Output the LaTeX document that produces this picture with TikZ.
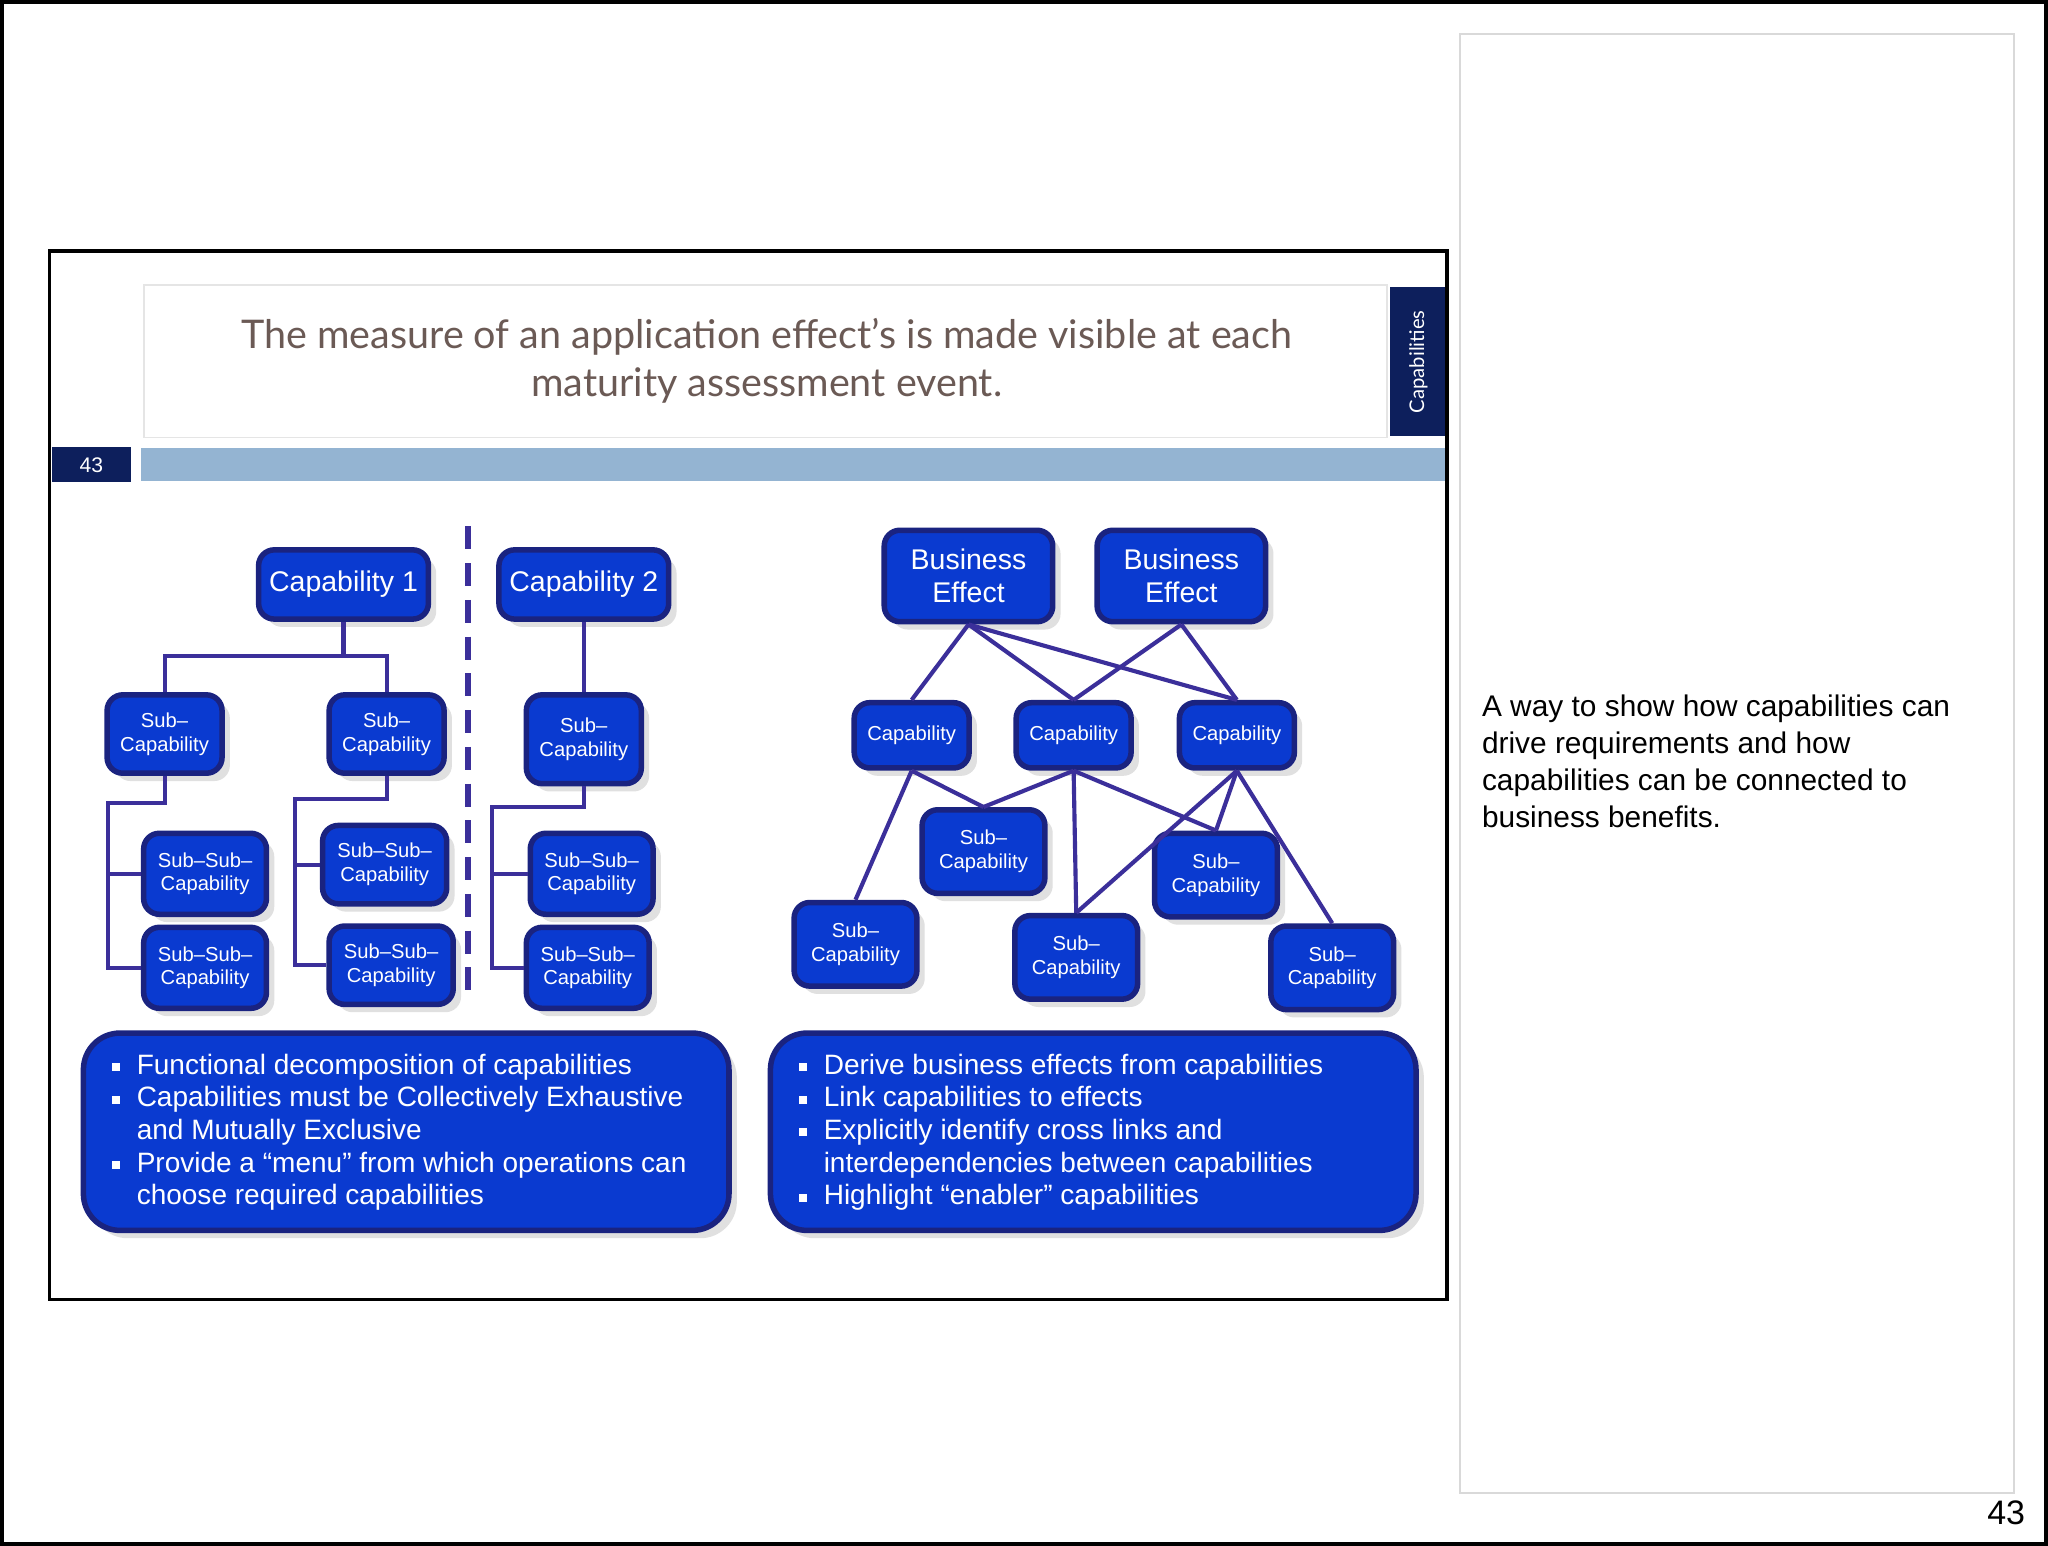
\documentclass[tikz,border=0pt]{standalone}
\usepackage{fontspec}
\setmainfont{Liberation Sans}
\newfontfamily\titlefont{Lato}
\usetikzlibrary{shadows}
\definecolor{nodeblue}{HTML}{0A3AD0}
\definecolor{nodeedge}{HTML}{1A2380}
\definecolor{linec}{HTML}{3B2F9A}
\definecolor{navy}{HTML}{0D1F5C}
\definecolor{barblue}{HTML}{94B4D2}
\definecolor{titlec}{HTML}{6B5A55}
\tikzset{
  box/.style={draw=nodeedge,line width=1.2pt,fill=nodeblue,rounded corners=0.12cm,text=white,align=center,inner sep=0pt,
    drop shadow={shadow xshift=0.06cm,shadow yshift=-0.06cm,fill=black!12,opacity=1}},
  big/.style={font=\fontsize{6.2}{7.2}\selectfont},
  small/.style={font=\fontsize{4.4}{5.2}\selectfont},
  ln/.style={draw=linec,line width=0.9pt},
}
\newcommand\bx[7]{\node[box,#7,minimum width={(#4-#2)*0.01cm},minimum height={(#5-#3)*0.01cm}] (#1) at ({(#2+#4)/2},{(#3+#5)/2}) {#6};}
\begin{document}
\begin{tikzpicture}[x=0.01cm,y=-0.01cm]
\useasboundingbox (0,0) rectangle (1568,1183);
\fill[white] (0,0) rectangle (1568,1183);
\draw[black,line width=1pt] (1,1) rectangle (1567,1182);
\draw[black!15,line width=0.4pt] (1118,26) rectangle (1542,1143);
\draw[black,line width=0.8pt] (38,192) rectangle (1108,995);
\draw[black!10,line width=0.4pt] (110,218) rectangle (1062,335);
\node[text=titlec,font=\titlefont\fontsize{8.6}{10.4}\selectfont,align=center] (title) at (587,276) {The measure of an application effect’s is made visible at each\\maturity assessment event.};
\fill[navy] (1064,220) rectangle (1106,334);
\node[rotate=90,text=white,font=\titlefont\fontsize{4.4}{5}\selectfont] (capl) at (1086,277) {Capabilities};
\fill[navy] (40,342) rectangle (100,369);
\node[text=white,font=\fontsize{4.6}{5}\selectfont] (num) at (70,356) {43};
\fill[barblue] (108,343) rectangle (1106,368);
% left tree
\bx{c1}{198}{421}{328}{474}{Capability 1}{big}
\bx{c2}{382}{421}{512}{474}{Capability 2}{big}
\bx{s1}{82}{532}{170}{592}{Sub–\\Capability}{small}
\bx{s2}{252}{532}{340}{592}{Sub–\\Capability}{small}
\bx{s3}{403}{532}{491}{600}{Sub–\\Capability}{small}
\bx{ss1}{110}{638}{204}{700}{Sub–Sub–\\Capability}{small}
\bx{ss2}{110}{710}{204}{772}{Sub–Sub–\\Capability}{small}
\bx{ss3}{247}{632}{342}{692}{Sub–Sub–\\Capability}{small}
\bx{ss4}{252}{709}{347}{769}{Sub–Sub–\\Capability}{small}
\bx{ss5}{406}{638}{500}{700}{Sub–Sub–\\Capability}{small}
\bx{ss6}{403}{710}{497}{772}{Sub–Sub–\\Capability}{small}
\draw[ln] (c1.south) -- (263,502) coordinate (j1);
\draw[ln] (s1.north) |- (j1) -| (s2.north);
\draw[ln] (c2.south) -- (s3.north);
\draw[ln] (s1.south) -- (126,615) -- (83,615) |- (ss2.west);
\draw[ln] (83,669) -- (ss1.west);
\draw[ln] (s2.south) -- (296,612) -- (226,612) |- (ss4.west);
\draw[ln] (226,662) -- (ss3.west);
\draw[ln] (s3.south) -- (447,618) -- (377,618) |- (ss6.west);
\draw[ln] (377,669) -- (ss5.west);
\draw[linec,line width=1.3pt,dash pattern=on 5pt off 3pt] (358,403) -- (358,768);
% right graph
\bx{b1}{677}{406}{806}{476}{Business\\Effect}{big}
\bx{b2}{840}{406}{969}{476}{Business\\Effect}{big}
\bx{k1}{654}{538}{742}{588}{Capability}{small}
\bx{k2}{778}{538}{866}{588}{Capability}{small}
\bx{k3}{903}{538}{991}{588}{Capability}{small}
\bx{u1}{706}{620}{800}{684}{Sub–\\Capability}{small}
\bx{u2}{884}{638}{978}{702}{Sub–\\Capability}{small}
\bx{u3}{608}{691}{702}{755}{Sub–\\Capability}{small}
\bx{u4}{777}{701}{871}{765}{Sub–\\Capability}{small}
\bx{u5}{973}{709}{1067}{773}{Sub–\\Capability}{small}
\begin{scope}[on background layer/.style={}]
\draw[ln] (b1.south) -- (k1.north);
\draw[ln] (b1.south) -- (k2.north);
\draw[ln] (b1.south) -- (k3.north);
\draw[ln] (b2.south) -- (k2.north);
\draw[ln] (b2.south) -- (k3.north);
\draw[ln] (k1.south) -- (u3.north);
\draw[ln] (k1.south) -- (u1.north);
\draw[ln] (k2.south) -- (u1.north);
\draw[ln] (k2.south) -- (u4.north);
\draw[ln] (k2.south) -- (u2.north);
\draw[ln] (k3.south) -- (u2.north);
\draw[ln] (k3.south) -- (u4.north);
\draw[ln] (k3.south) -- (u5.north);
\end{scope}
% bullet boxes
\tikzset{bbox/.style={draw=nodeedge,line width=1.2pt,fill=nodeblue,rounded corners=0.28cm,
    drop shadow={shadow xshift=0.06cm,shadow yshift=-0.06cm,fill=black!12,opacity=1}}}
\node[bbox,minimum width=4.94cm,minimum height=1.51cm] (p1) at (311,866.5) {};
\node[bbox,minimum width=4.94cm,minimum height=1.51cm] (p2) at (837,866.5) {};
\tikzset{bl/.style={text=white,anchor=west,inner sep=0pt,font=\fontsize{6.1}{7}\selectfont},
  sq/.style={fill=white,minimum size=0.06cm,inner sep=0pt}}
\foreach \y/\t/\b in {817/Functional decomposition of capabilities/1,842/Capabilities must be Collectively Exhaustive/1,867/and Mutually Exclusive/0,892/Provide a “menu” from which operations can/1,917/choose required capabilities/0}{
  \node[bl] at (104,\y) {\t};
  \ifnum\b=1 \fill[white] (86,\y-3) rectangle (92,\y+3);\fi}
\foreach \y/\t/\b in {817/Derive business effects from capabilities/1,842/Link capabilities to effects/1,867/Explicitly identify cross links and/1,892/interdependencies between capabilities/0,917/Highlight “enabler” capabilities/1}{
  \node[bl] at (630,\y) {\t};
  \ifnum\b=1 \fill[white] (612,\y-3) rectangle (618,\y+3);\fi}
\node[anchor=north west,align=left,inner sep=0pt,font=\fontsize{6.5}{8.1}\selectfont] (note) at (1134,531) {A way to show how capabilities can\\drive requirements and how\\capabilities can be connected to\\business benefits.};
\node[font=\fontsize{7.4}{8}\selectfont] (pg) at (1536,1158) {43};
\end{tikzpicture}
\end{document}
